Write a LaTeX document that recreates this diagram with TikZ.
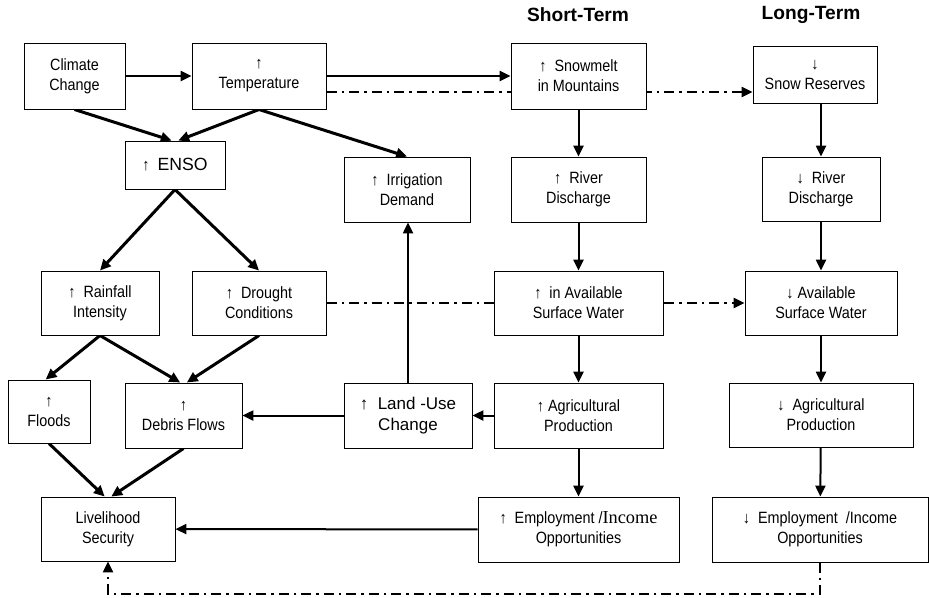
\documentclass[tikz,border=0pt]{standalone}
\usepackage{fontspec}
\setmainfont{Liberation Sans}[FakeStretch=0.88]
\newfontfamily\headfont{Liberation Sans}
\newfontfamily\incfont{Liberation Serif}
\usetikzlibrary{arrows.meta,backgrounds}

\begin{document}
\begin{tikzpicture}[x=0.6pt,y=-0.6pt,
  box/.style={draw, fill=white, line width=0.6pt, align=center, inner sep=1pt, font=\fontsize{9.8}{12}\selectfont},
  link/.style={line width=1.2pt, -{Triangle[length=6.5pt,width=6pt]}},
  slant/.style={link, line width=1.8pt},
  dashdot/.style={link, dash pattern=on 6pt off 3pt on 1.5pt off 3pt}]
\useasboundingbox (0,0) rectangle (929,597);

% headings
\node[font=\headfont\bfseries\fontsize{11.5}{13}\selectfont] (short) at (578,15) {Short-Term};
\node[font=\headfont\bfseries\fontsize{11.5}{13}\selectfont] (long) at (811,15) {Long-Term};

% first row
\node[box, minimum width=60.6pt, minimum height=39.6pt] (climate) at (74.5,76) {Climate\\Change};
\node[box, minimum width=80.4pt, minimum height=39.6pt] (temp) at (259,76) {↑\\Temperature};
\node[box, minimum width=81pt, minimum height=39.6pt] (snow) at (578.5,76) {↑~~Snowmelt\\in Mountains};
\node[box, minimum width=74.4pt, minimum height=34.2pt] (reserve) at (815,74.5) {↓\\Snow Reserves};

% second row
\node[box, minimum width=60pt, minimum height=28.8pt] (enso) at (175,165) {↑~ {\headfont\fontsize{10.6}{12}\selectfont ENSO}};
\node[box, minimum width=75.6pt, minimum height=39pt] (irrig) at (407,189.5) {↑~~Irrigation\\Demand};
\node[box, minimum width=81pt, minimum height=39pt] (riverS) at (578.5,189.5) {↑~~River\\Discharge};
\node[box, minimum width=70.8pt, minimum height=38.4pt] (riverL) at (821,189) {↓~~River\\Discharge};

% third row
\node[box, minimum width=70.8pt, minimum height=38.4pt] (rain) at (100,303) {↑~~Rainfall\\Intensity};
\node[box, minimum width=80.4pt, minimum height=38.4pt] (drought) at (259,303) {↑~~Drought\\Conditions};
\node[box, minimum width=101.4pt, minimum height=38.4pt] (availS) at (578.5,303) {↑~~in Available\\Surface Water};
\node[box, minimum width=91.2pt, minimum height=38.4pt] (availL) at (821,303) {↓ Available\\Surface Water};

% fourth row
\node[box, minimum width=49.2pt, minimum height=37.8pt] (floods) at (49,411.5) {↑\\Floods};
\node[box, minimum width=70.2pt, minimum height=39pt] (debris) at (183.5,415.5) {↑\\Debris Flows};
\node[box, minimum width=76.8pt, minimum height=39pt, font=\headfont\fontsize{10.2}{12.5}\selectfont] (landuse) at (408,415.5) {↑~ Land -Use\\Change};
\node[box, minimum width=101.4pt, minimum height=39pt] (agriS) at (578.5,415.5) {↑ Agricultural\\Production};
\node[box, minimum width=110.4pt, minimum height=38.4pt] (agriL) at (821,415) {↓~~Agricultural\\Production};

% last row
\node[box, minimum width=80.4pt, minimum height=38.4pt] (live) at (108,529) {Livelihood\\Security};
\node[box, minimum width=120.6pt, minimum height=39pt] (empS) at (578.5,529.5) {↑~~Employment /{\incfont\fontsize{11}{12}\selectfont Income}\\Opportunities};
\node[box, minimum width=129.6pt, minimum height=39pt] (empL) at (820,529.5) {↓~~Employment~~/Income\\Opportunities};

\begin{scope}[on background layer]
\draw[link] (climate) -- (temp);
\draw[link] (temp) -- (snow);
\coordinate (tq) at ([yshift=-9.6pt]temp.east);
\draw[dashdot] (tq) -- (tq -| reserve.west);
\draw[slant] (climate.south) -- ([xshift=-2pt]enso.north);
\draw[slant] (temp.south) -- ([xshift=2pt]enso.north);
\draw[slant] (temp.south) -- (irrig.north);
\draw[slant] (enso.south) -- (rain.north);
\draw[slant] (enso.south) -- (drought.north);
\draw[slant] (rain.south) -- ([xshift=-2pt]floods.north);
\draw[slant] (rain.south) -- ([xshift=-2pt]debris.north);
\draw[slant] (drought.south) -- ([xshift=2pt]debris.north);
\draw[slant] (floods.south) -- ([xshift=-2pt]live.north);
\draw[slant] (debris.south) -- ([xshift=2pt]live.north);
\draw[dashdot] (drought) -- (availL);
\draw[link] (landuse.north) -- (landuse.north |- irrig.south);
\draw[link] (landuse) -- (debris);
\draw[link] (agriS) -- (landuse);
\draw[link] (empS) -- (live);
\draw[link] (snow) -- (riverS);
\draw[link] (riverS) -- (availS);
\draw[link] (availS) -- (agriS);
\draw[link] (agriS) -- (empS);
\draw[link] (reserve.south -| riverL.north) -- (riverL.north);
\draw[link] (riverL) -- (availL);
\draw[link] (availL) -- (agriL);
\draw[link] (agriL) -- (empL);
\draw[dashdot] (empL.south) -- ++(0,31) -| (live.south);
\end{scope}
\end{tikzpicture}
\end{document}
